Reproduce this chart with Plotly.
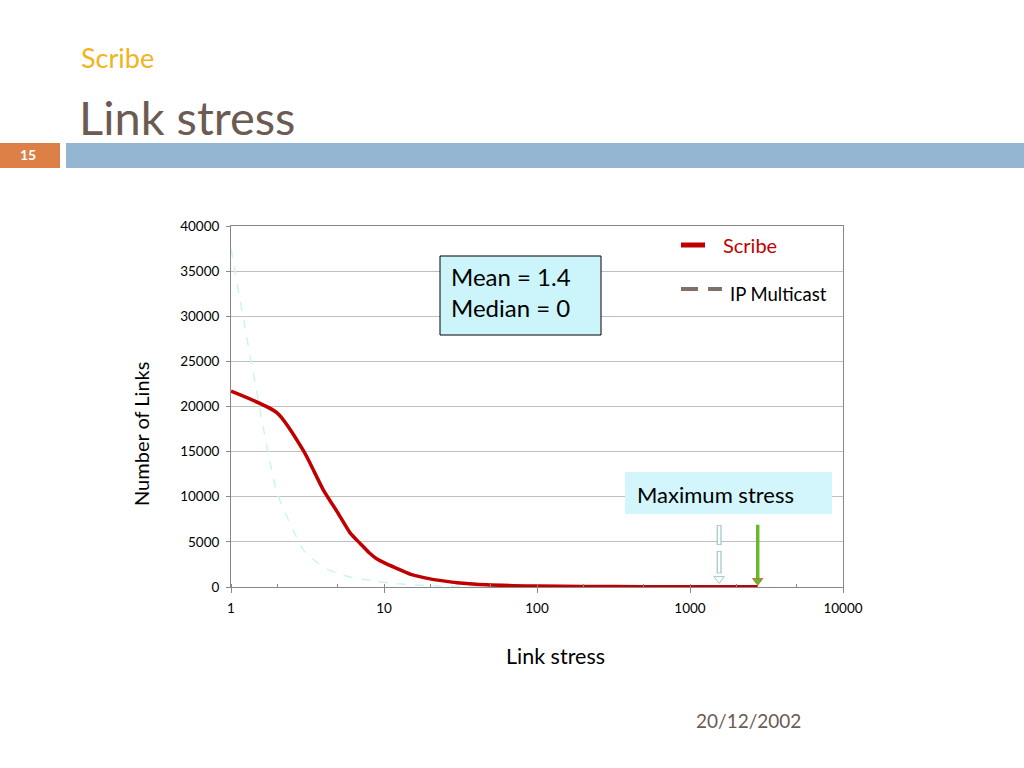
import plotly.graph_objects as go

# ---- data ----
scribe_x = [1, 2, 3, 4, 5, 6, 7, 8, 9, 10, 12, 15, 20, 25, 30, 40, 50, 70, 100, 200, 500, 1000, 2000, 2770]
scribe_y = [21700, 19300, 15000, 10800, 8200, 6000, 4800, 3800, 3100, 2700, 2100, 1400, 900, 650, 480, 300, 220, 150, 100, 60, 40, 30, 20, 15]
ipm_x = [1, 2, 3, 4, 5, 6, 7, 8, 9, 10, 15, 20, 30, 50, 100, 300, 1000, 1550]
ipm_y = [37500, 10400, 4000, 2200, 1500, 1100, 900, 750, 600, 500, 250, 150, 80, 40, 20, 10, 5, 2]
scribe_max = 2770
ipm_max = 1550
y_ticks = [0, 5000, 10000, 15000, 20000, 25000, 30000, 35000, 40000]
x_ticks = [1, 10, 100, 1000, 10000]

W, H = 1024, 768
def px(x):
    return x / W
def py(y):
    return 1 - y / H

FONT = "Lato"
fig = go.Figure()

fig.add_trace(go.Scatter(x=ipm_x, y=ipm_y, mode="lines", line=dict(color="#ccf4f6", width=1.5, dash="dash", shape="spline", smoothing=0.4), showlegend=False, hoverinfo="skip"))
fig.add_trace(go.Scatter(x=scribe_x, y=scribe_y, mode="lines", line=dict(color="#c00000", width=3.5, shape="spline", smoothing=0.6), showlegend=False))

# maximum stress arrows
seg_x = [ipm_max, ipm_max, None, ipm_max, ipm_max]
fig.add_trace(go.Scatter(x=seg_x, y=[6850, 4650, None, 4000, 1500], mode="lines", line=dict(color="#9fc6d0", width=5), showlegend=False, hoverinfo="skip", connectgaps=False))
fig.add_trace(go.Scatter(x=seg_x, y=[6750, 4750, None, 3900, 1600], mode="lines", line=dict(color="#ffffff", width=2.5), showlegend=False, hoverinfo="skip", connectgaps=False))
fig.add_trace(go.Scatter(x=[ipm_max], y=[900], mode="markers", marker=dict(symbol="triangle-down", size=9, color="#ffffff", line=dict(color="#9fc6d0", width=1)), showlegend=False, hoverinfo="skip"))
fig.add_trace(go.Scatter(x=[scribe_max, scribe_max], y=[6900, 900], mode="lines", line=dict(color="#6ab82e", width=3.5), showlegend=False, hoverinfo="skip"))
fig.add_trace(go.Scatter(x=[scribe_max], y=[700], mode="markers", marker=dict(symbol="triangle-down", size=9, color="#5cb82e", line=dict(color="#c07a30", width=1)), showlegend=False, hoverinfo="skip"))

shapes = [
    dict(type="rect", xref="paper", yref="paper", x0=px(0), x1=px(60), y0=py(168), y1=py(143), fillcolor="#dd8047", line=dict(width=0), layer="below"),
    dict(type="rect", xref="paper", yref="paper", x0=px(66), x1=px(1024), y0=py(168), y1=py(143), fillcolor="#94b6d2", line=dict(width=0), layer="below"),
    dict(type="rect", xref="paper", yref="paper", x0=px(440), x1=px(601), y0=py(335), y1=py(256), fillcolor="#ccf5fb", line=dict(color="#000000", width=1)),
    dict(type="rect", xref="paper", yref="paper", x0=px(625), x1=px(832), y0=py(514), y1=py(472), fillcolor="#d2f6fc", line=dict(width=0)),
    dict(type="line", xref="paper", yref="paper", x0=px(681), x1=px(705), y0=py(245), y1=py(245), line=dict(color="#c00000", width=5)),
    dict(type="line", xref="paper", yref="paper", x0=px(681), x1=px(698), y0=py(289), y1=py(289), line=dict(color="#7f7068", width=4)),
    dict(type="line", xref="paper", yref="paper", x0=px(708), x1=px(722), y0=py(289), y1=py(289), line=dict(color="#7f7068", width=4)),
]

annotations = [
    dict(text="Scribe", x=px(79), y=py(57), xref="paper", yref="paper", xanchor="left", yanchor="middle", showarrow=False, font=dict(family=FONT, size=27, color="#f0b41c")),
    dict(text="Link stress", x=px(77), y=py(117), xref="paper", yref="paper", xanchor="left", yanchor="middle", showarrow=False, font=dict(family=FONT, size=47, color="#6b5b53")),
    dict(text="<b>15</b>", x=px(28), y=py(155), xref="paper", yref="paper", xanchor="center", yanchor="middle", showarrow=False, font=dict(family=FONT, size=14, color="#ffffff")),
    dict(text="Mean = 1.4<br>Median = 0", x=px(449), y=py(292), xref="paper", yref="paper", xanchor="left", yanchor="middle", align="left", showarrow=False, font=dict(family=FONT, size=24, color="#000000")),
    dict(text="Maximum stress", x=px(635), y=py(494), xref="paper", yref="paper", xanchor="left", yanchor="middle", showarrow=False, font=dict(family=FONT, size=22, color="#000000")),
    dict(text="Scribe", x=px(721), y=py(245), xref="paper", yref="paper", xanchor="left", yanchor="middle", showarrow=False, font=dict(family=FONT, size=20, color="#c00000")),
    dict(text="IP Multicast", x=px(728), y=py(294), xref="paper", yref="paper", xanchor="left", yanchor="middle", showarrow=False, font=dict(family=FONT, size=18.5, color="#000000")),
    dict(text="20/12/2002", x=px(748), y=py(720), xref="paper", yref="paper", xanchor="center", yanchor="middle", showarrow=False, font=dict(family=FONT, size=19, color="#6b5b53")),
    # axis titles
    dict(text="Link stress", x=px(555), y=py(656), xref="paper", yref="paper", xanchor="center", yanchor="middle", showarrow=False, font=dict(family=FONT, size=21.5, color="#000000")),
    dict(text="Number of Links", x=px(141), y=py(434), xref="paper", yref="paper", xanchor="center", yanchor="middle", textangle=-90, showarrow=False, font=dict(family=FONT, size=20, color="#000000")),
]

fig.update_layout(
    width=W, height=H,
    margin=dict(l=0, r=0, t=0, b=0, pad=0, autoexpand=False),
    paper_bgcolor="#ffffff", plot_bgcolor="#ffffff",
    showlegend=False,
    shapes=shapes, annotations=annotations,
    font=dict(family=FONT, size=12, color="#000000"),
    xaxis=dict(
        type="log", domain=[px(231), px(843)], range=[0, 4], automargin=False,
        tickvals=x_ticks, ticktext=[str(v) for v in x_ticks],
        ticks="outside", ticklen=5, tickcolor="#888888", ticklabelstandoff=4,
        minor=dict(ticks="inside", ticklen=3, tickcolor="#888888", dtick="D2", showgrid=False),
        showline=True, linecolor="#888888", linewidth=1, mirror=True,
        showgrid=False, zeroline=False,
        tickfont=dict(family=FONT, size=13.5, color="#000000"),
    ),
    yaxis=dict(
        domain=[py(587), py(226)], range=[0, 40000], automargin=False,
        tickvals=y_ticks, ticktext=[str(v) for v in y_ticks],
        ticks="outside", ticklen=4, tickcolor="#888888", ticklabelstandoff=4,
        showline=True, linecolor="#888888", linewidth=1, mirror=True,
        showgrid=True, gridcolor="#bfbfbf", gridwidth=1, zeroline=False,
        tickfont=dict(family=FONT, size=13.5, color="#000000"),
    ),
)

fig.write_html("out.html", config={"displayModeBar": False},
               post_script="document.body.style.margin='0';")
